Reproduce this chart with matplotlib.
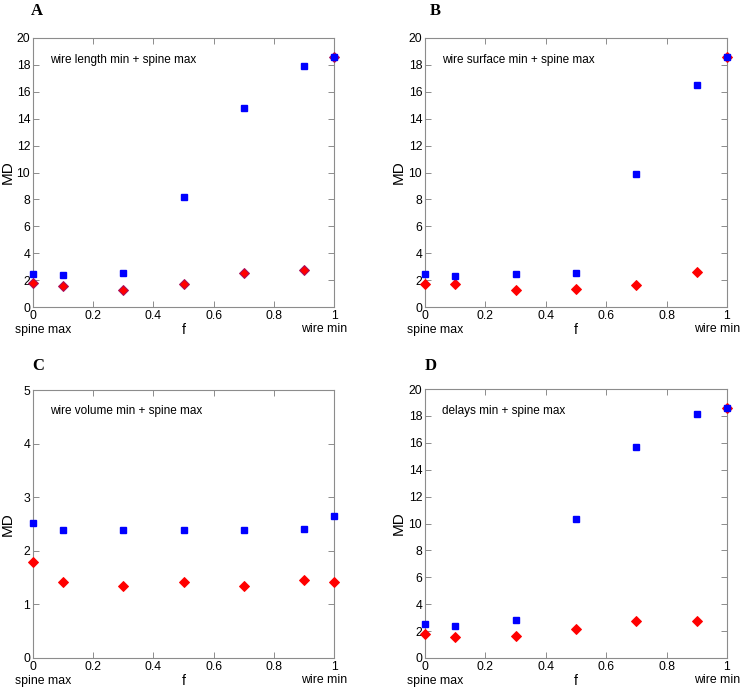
import matplotlib as mpl
import matplotlib.pyplot as plt

mpl.rcParams.update({
    'font.family': 'sans-serif',
    'font.sans-serif': ['Liberation Sans', 'DejaVu Sans'],
    'figure.facecolor': 'white',
    'axes.facecolor': 'white',
})

F = [0, 0.1, 0.3, 0.5, 0.7, 0.9, 1]

# panel A: wire length min + spine max
A_SQ = [2.48, 2.41, 2.56, 8.15, 14.78, 17.89, 18.58]
A_DM = [1.79, 1.57, 1.29, 1.69, 2.56, 2.73, 18.58]
# panel B: wire surface min + spine max
B_SQ = [2.48, 2.33, 2.43, 2.53, 9.86, 16.5, 18.58]
B_DM = [1.74, 1.69, 1.29, 1.37, 1.60, 2.61, 18.58]
# panel C: wire volume min + spine max
C_SQ = [2.52, 2.38, 2.39, 2.38, 2.39, 2.40, 2.65]
C_DM = [1.79, 1.42, 1.34, 1.41, 1.34, 1.46, 1.42]
# panel D: delays min + spine max
D_SQ = [2.53, 2.40, 2.85, 10.36, 15.71, 18.17, 18.59]
D_DM = [1.81, 1.59, 1.66, 2.16, 2.78, 2.78, 18.59]

PANELS = [
    ('A', 'wire length min + spine max', A_SQ, A_DM, 20),
    ('B', 'wire surface min + spine max', B_SQ, B_DM, 20),
    ('C', 'wire volume min + spine max', C_SQ, C_DM, 5),
    ('D', 'delays min + spine max', D_SQ, D_DM, 20),
]

W, H = 741, 687
BOXES = [  # left, top, right, bottom in pixels
    (33, 38, 334, 307),
    (425, 38, 727, 307),
    (33, 390, 334, 658),
    (425, 389, 727, 658),
]
LETTER_XY = [(37, 11), (435, 11), (38, 366), (431, 366)]
MD_X = [15, 406, 15, 406]

C_AX = '#8c8c8c'

fig = plt.figure(figsize=(W / 100, H / 100), dpi=100)

for (letter, note, sq, dm, ymax), (l, t, r, b), (lx, ly), mdx in zip(PANELS, BOXES, LETTER_XY, MD_X):
    ax = fig.add_axes([l / W, 1 - b / H, (r - l) / W, (b - t) / H])
    ax.plot(F, dm, linestyle='none', marker='D', markersize=5.5,
            color='#ff0000', markeredgecolor='#ff0000' if letter != 'A' else '#a01060',
            markeredgewidth=0.7, clip_on=False, zorder=3)
    ax.plot(F, sq, linestyle='none', marker='s', markersize=4.0,
            color='#0000ff', markeredgecolor='#0000ff', clip_on=False, zorder=4)

    ax.set_xlim(0, 1)
    ax.set_ylim(0, ymax)
    ax.set_xticks([0, 0.2, 0.4, 0.6, 0.8, 1])
    ax.set_xticklabels(['0', '0.2', '0.4', '0.6', '0.8', '1'])
    if ymax == 5:
        ax.set_yticks(range(0, 6))
    else:
        ax.set_yticks(range(0, 21, 2))
    ax.tick_params(direction='in', top=True, right=True, length=4,
                   width=0.7, color=C_AX, labelsize=8.8, pad=2)
    for s in ax.spines.values():
        s.set_color(C_AX)
        s.set_linewidth(0.8)

    ax.set_ylabel('MD', fontsize=11)
    ax.yaxis.set_label_coords((mdx - l) / (r - l), 0.5)
    dy = 23 / (b - t)
    ax.text(0.5, -dy, 'f', transform=ax.transAxes, ha='center', va='center', fontsize=10)
    ax.text(10 / (r - l), -dy, 'spine max', transform=ax.transAxes, ha='center', va='center', fontsize=8.8)
    ax.text(1.0 - 9.5 / (r - l), -dy + 0.004, 'wire min', transform=ax.transAxes,
            ha='center', va='center', fontsize=8.8)
    ax.text(0.057, 0.92, note, transform=ax.transAxes, ha='left', va='center', fontsize=8.5)

    fig.text(lx / W, 1 - ly / H, letter, ha='center', va='center',
             fontsize=12, fontweight='bold', family='Liberation Serif')

fig.savefig('out.png', dpi=100)
